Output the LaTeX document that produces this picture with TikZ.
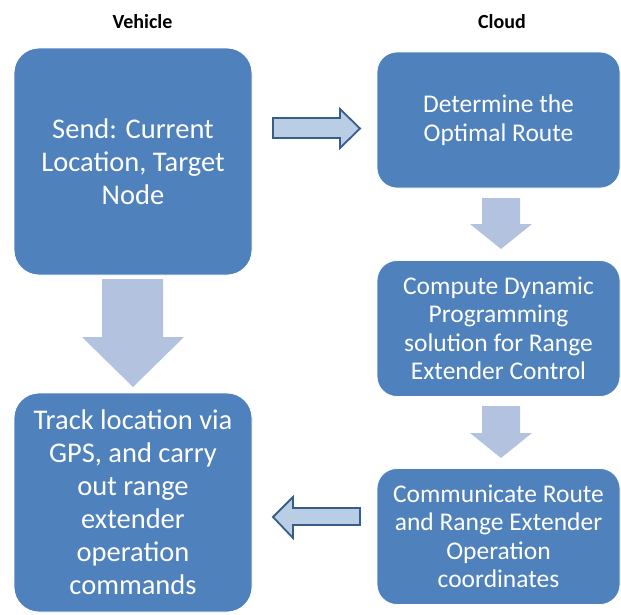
\documentclass[tikz,border=0pt]{standalone}
\usepackage{fontspec}
\setmainfont{Carlito}
\definecolor{boxblue}{HTML}{4F81BD}
\definecolor{arrowfill}{HTML}{B9CDE5}
\definecolor{arrowline}{HTML}{385D8A}
\definecolor{downfill}{HTML}{B3C3DF}

\begin{document}
\begin{tikzpicture}[x=1pt,y=-1pt,
  stage/.style={rectangle,fill=boxblue,draw=white,line width=0.8pt,text=white,align=center,inner sep=0pt},
  carstage/.style={stage,rounded corners=25pt,minimum width=238pt,font=\fontsize{28.5}{33}\selectfont},
  cloudstage/.style={stage,rounded corners=20pt,minimum width=243pt,minimum height=136pt,font=\fontsize{25.5}{28.5}\selectfont},
  sidearrow/.style={fill=arrowfill,draw=arrowline,line width=1.8pt,line join=miter},
  downarrow/.style={fill=downfill}]
\useasboundingbox (0,0) rectangle (621,614);
% column titles
\node at (142.5,22) [font=\bfseries\fontsize{20}{22}\selectfont] (vehicle) {Vehicle};
\node at (502,22) [font=\bfseries\fontsize{20}{22}\selectfont] (cloud) {Cloud};
% vehicle side
\node at (133,161.5) [carstage,minimum height=227pt] (send) {Send: Current\\Location, Target\\Node};
\node at (133,502.5) [carstage,minimum height=219pt] (track) {Track location via\\GPS, and carry\\out range\\extender\\operation\\commands};
% cloud side
\node at (498.5,120) [cloudstage] (route) {Determine the\\Optimal Route};
\node at (498.5,328.5) [cloudstage] (dp) {Compute Dynamic\\Programming\\solution for Range\\Extender Control};
\node at (498.5,536.5) [cloudstage] (comm) {Communicate Route\\and Range Extender\\Operation\\coordinates};
% block arrows
\draw[sidearrow] (273,118) -- (340,118) -- (340,109) -- (360,128.5) -- (340,148) -- (340,138) -- (273,138) -- cycle;
\draw[sidearrow] (360,508) -- (293,508) -- (293,497) -- (273,517) -- (293,538) -- (293,525) -- (360,525) -- cycle;
\fill[downarrow] (102,279) -- (163,279) -- (163,337) -- (184,337) -- (133,387) -- (82,337) -- (102,337) -- cycle;
\fill[downarrow] (482,198) -- (520,198) -- (520,224) -- (532,224) -- (501,249) -- (470,224) -- (482,224) -- cycle;
\fill[downarrow] (482,406) -- (520,406) -- (520,433) -- (532,433) -- (501,458) -- (470,433) -- (482,433) -- cycle;
\end{tikzpicture}
\end{document}
